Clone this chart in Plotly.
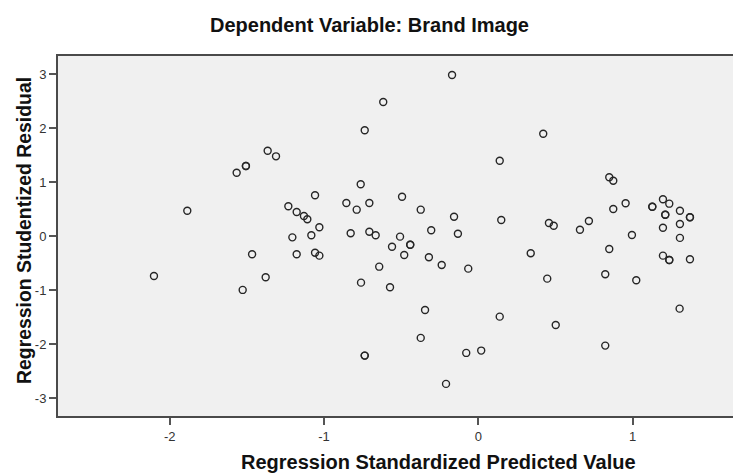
import plotly.graph_objects as go

# Regression Standardized Predicted Value (x) and Studentized Residual (y)
predicted = [
    -1.886, -1.566, -1.506, -1.506, -2.102, -1.527, -1.466, -1.365, -1.311,
    -0.170, -0.616, -0.736, -0.762, -1.058, -0.494, -0.855, -0.788, -0.706,
    -0.373, -0.157, -1.231, -1.177, -1.130, -1.108, -1.030, -1.205, -1.082,
    -0.827, -0.706, -0.665, -0.507, -0.305, -0.132, -1.177, -1.058, -1.030,
    -0.559, -0.441, -0.441, -0.480, -0.320, -0.237, -0.065, -0.642, -0.760,
    -0.572, -1.378, -0.345, -0.373, -0.736, -0.736, -0.078, 0.019, -0.209,
    0.421, 0.139, 0.849, 0.875, 0.955, 0.875, 1.128, 1.128, 1.197, 1.238,
    1.212, 1.212, 1.307, 1.372, 1.372, 1.307, 1.197, 0.149, 0.458, 0.489,
    0.659, 0.717, 0.996, 1.307, 0.340, 0.849, 1.197, 1.238, 1.238, 1.372,
    0.447, 0.823, 1.024, 1.305, 0.139, 0.502, 0.823,
]
residual = [
    0.474, 1.178, 1.302, 1.302, -0.735, -0.994, -0.333, 1.585, 1.481,
    2.987, 2.487, 1.963, 0.963, 0.759, 0.733, 0.617, 0.493, 0.617,
    0.493, 0.363, 0.556, 0.450, 0.376, 0.315, 0.167, -0.020, 0.019,
    0.056, 0.085, 0.019, -0.007, 0.111, 0.048, -0.333, -0.304, -0.359,
    -0.193, -0.156, -0.156, -0.346, -0.389, -0.531, -0.600, -0.563, -0.859,
    -0.944, -0.759, -1.365, -1.883, -2.211, -2.211, -2.161, -2.118, -2.735,
    1.900, 1.400, 1.093, 1.030, 0.611, 0.506, 0.548, 0.548, 0.685, 0.604,
    0.400, 0.400, 0.474, 0.352, 0.352, 0.228, 0.159, 0.302, 0.246, 0.196,
    0.122, 0.283, 0.024, -0.030, -0.315, -0.235, -0.359, -0.439, -0.439, -0.426,
    -0.785, -0.704, -0.815, -1.341, -1.489, -1.643, -2.026,
]

x_ticks = [-2, -1, 0, 1]
x_tick_labels = ["-2", "-1", "0", "1"]
y_ticks = [-3, -2, -1, 0, 1, 2, 3]
y_tick_labels = ["-3", "-2", "-1", "0", "1", "2", "3"]

title_text = "Dependent Variable: Brand Image"
x_title = "Regression Standardized Predicted Value"
y_title = "Regression Studentized Residual"

fig = go.Figure()
fig.add_trace(go.Scatter(
    x=predicted, y=residual, mode="markers",
    marker=dict(symbol="circle-open", size=7, color="#262626",
                line=dict(width=1.4, color="#262626")),
    hoverinfo="x+y", showlegend=False,
))

font_family = "Liberation Sans, Arial, sans-serif"
axis_common = dict(
    showgrid=False, zeroline=False, showline=True, linecolor="#4a4a4a",
    linewidth=2, ticks="outside", ticklen=7, tickwidth=1.5, tickcolor="#555555",
    tickfont=dict(family=font_family, size=13, color="#333333"),
)

L, T, W, H = 58, 56, 675, 360

fig.update_layout(
    width=733, height=474,
    margin=dict(l=L, r=0, t=T, b=474 - T - H),
    paper_bgcolor="white", plot_bgcolor="#f0f0f0",
    xaxis=dict(range=[-2.724, 1.651], tickvals=x_ticks, ticktext=x_tick_labels,
               mirror=True, **axis_common),
    yaxis=dict(range=[-3.33, 3.34], tickvals=y_ticks, ticktext=y_tick_labels,
               **axis_common),
    font=dict(family=font_family),
    annotations=[
        dict(text="<b>%s</b>" % title_text, xref="paper", yref="paper",
             x=(369.5 - L) / W, y=(T + H - 24.5) / H, xanchor="center", yanchor="middle",
             showarrow=False, font=dict(family=font_family, size=20, color="#111111")),
        dict(text="<b>%s</b>" % x_title, xref="paper", yref="paper",
             x=(438 - L) / W, y=(T + H - 462) / H, xanchor="center", yanchor="middle",
             showarrow=False, font=dict(family=font_family, size=20, color="#111111")),
        dict(text="<b>%s</b>" % y_title, xref="paper", yref="paper",
             x=(23.5 - L) / W, y=(T + H - 230.5) / H, xanchor="center", yanchor="middle",
             textangle=-90, showarrow=False,
             font=dict(family=font_family, size=19.4, color="#111111")),
    ],
)

fig.write_html(
    "out.html",
    config={"displayModeBar": False},
    post_script="document.body.style.margin='0';document.body.style.overflow='hidden';",
)
